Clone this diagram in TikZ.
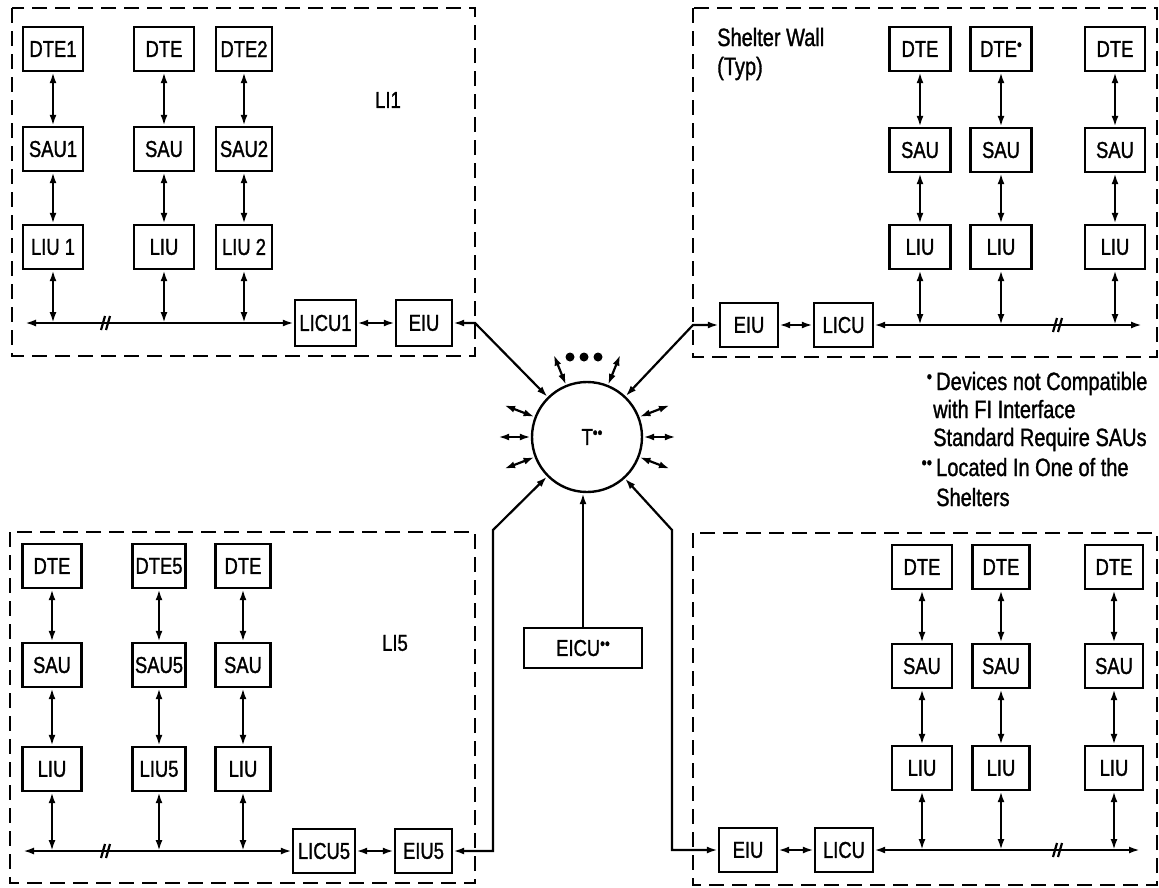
\documentclass[tikz,border=0pt]{standalone}
\usepackage{fontspec}
\setmainfont{Liberation Sans}[FakeStretch=0.8, FakeBold=1.2]
\usetikzlibrary{arrows.meta,calc}
\newcommand{\sdot}{\raisebox{0.28em}{\scalebox{0.75}{\textbullet}}}
\begin{document}
\begin{tikzpicture}[x=1pt,y=-1pt,
  every node/.style={font=\fontsize{23}{27}\selectfont},
  unit/.style={draw, line width=2.4pt, minimum width=60pt, minimum height=44pt, inner sep=0pt},
  wall/.style={line width=2.2pt, dash pattern=on 15pt off 8pt},
  wire/.style={line width=2.2pt},
  link/.style={line width=2.2pt, {Latex[length=11pt,width=7pt]}-{Latex[length=11pt,width=7pt]}},
  tolink/.style={line width=2.2pt, -{Latex[length=11pt,width=7pt]}},
  note/.style={anchor=base west, inner sep=0pt, font=\fontsize{25}{29}\selectfont}]
\useasboundingbox (0,0) rectangle (1159,887);

% ---------- shelter walls ----------
\draw[wall] (12,8) rectangle (475,356);
\draw[wall] (693,8) rectangle (1157,357);
\draw[wall] (10,532) rectangle (475,883);
\draw[wall] (693,533) rectangle (1157,885);

% ---------- top left ----------
\node[unit] (a1d) at (53,49) {DTE1};
\node[unit] (a1s) at (53,149) {SAU1};
\node[unit] (a1l) at (53,247) {LIU 1};
\node[unit] (a2d) at (164,49) {DTE};
\node[unit] (a2s) at (164,149) {SAU};
\node[unit] (a2l) at (164,247) {LIU};
\node[unit,minimum width=56pt] (a3d) at (244,49) {DTE2};
\node[unit,minimum width=56pt] (a3s) at (244,149) {SAU2};
\node[unit,minimum width=56pt] (a3l) at (244,247) {LIU 2};
\node[unit,minimum width=61pt,minimum height=46pt] (alicu) at (325.5,323) {LICU1};
\node[unit,minimum width=56pt,minimum height=46pt] (aeiu) at (424,323) {EIU};
\node (alabel) at (388,100) {LI1};
\coordinate (abus) at (25,323);
\coordinate (aport) at (475,323);

% ---------- top right ----------
\node[unit,minimum width=61pt] (b1d) at (920,49) {DTE};
\node[unit,minimum width=61pt] (b1s) at (920,150) {SAU};
\node[unit,minimum width=61pt] (b1l) at (920,247) {LIU};
\node[unit,minimum width=61pt] (b2d) at (1001,49) {DTE\sdot};
\node[unit,minimum width=61pt] (b2s) at (1001,150) {SAU};
\node[unit,minimum width=61pt] (b2l) at (1001,247) {LIU};
\node[unit] (b3d) at (1115,49) {DTE};
\node[unit] (b3s) at (1115,150) {SAU};
\node[unit] (b3l) at (1115,247) {LIU};
\node[unit,minimum width=58pt] (beiu) at (749,325) {EIU};
\node[unit,minimum width=59pt] (blicu) at (843.5,325) {LICU};
\node[note] (bwall) at (717,46) {Shelter Wall};
\node[note] (btyp) at (717,75) {(Typ)};
\coordinate (bbus) at (1142,325);
\coordinate (bport) at (693,325);

% ---------- bottom left ----------
\node[unit,minimum width=59pt] (c1d) at (52,566) {DTE};
\node[unit,minimum width=59pt] (c1s) at (52,665) {SAU};
\node[unit,minimum width=59pt] (c1l) at (52,769) {LIU};
\node[unit,minimum width=53pt] (c2d) at (159,566) {DTE5};
\node[unit,minimum width=53pt] (c2s) at (159,665) {SAU5};
\node[unit,minimum width=53pt] (c2l) at (159,769) {LIU5};
\node[unit,minimum width=55pt] (c3d) at (243,566) {DTE};
\node[unit,minimum width=55pt] (c3s) at (243,665) {SAU};
\node[unit,minimum width=55pt] (c3l) at (243,769) {LIU};
\node[unit,minimum width=62pt] (clicu) at (324,851) {LICU5};
\node[unit,minimum width=57pt] (ceiu) at (423.5,851) {EIU5};
\node (clabel) at (395,643) {LI5};
\coordinate (cbus) at (23,851);
\coordinate (cbend) at (493,530);

% ---------- bottom right ----------
\node[unit] (d1d) at (922,567) {DTE};
\node[unit] (d1s) at (922,666) {SAU};
\node[unit] (d1l) at (922,768) {LIU};
\node[unit,minimum width=57pt] (d2d) at (1001,567) {DTE};
\node[unit,minimum width=57pt] (d2s) at (1001,666) {SAU};
\node[unit,minimum width=57pt] (d2l) at (1001,768) {LIU};
\node[unit,minimum width=58pt] (d3d) at (1114,567) {DTE};
\node[unit,minimum width=58pt] (d3s) at (1114,666) {SAU};
\node[unit,minimum width=58pt] (d3l) at (1114,768) {LIU};
\node[unit,minimum width=58pt] (deiu) at (748,850) {EIU};
\node[unit,minimum width=58pt] (dlicu) at (844,850) {LICU};
\coordinate (dbus) at (1140,850);
\coordinate (dbend) at (672,530);

% ---------- central node ----------
\node[draw, circle, line width=2.4pt, minimum size=110pt, inner sep=0pt] (T) at (587,437) {\hspace{10pt}T\sdot\sdot};
\node[unit,minimum width=118pt,minimum height=40pt] (eicu) at (583,648) {EICU\sdot\sdot\hspace{24pt}};

% ---------- vertical chains ----------
\foreach \q in {a1,a2,a3,b1,b2,b3,c1,c2,c3,d1,d2,d3} {
  \draw[link] (\q d) -- (\q s);
  \draw[link] (\q s) -- (\q l);
}
\foreach \q in {a1,a2,a3} \draw[link] (\q l) -- (\q l |- abus);
\foreach \q in {b1,b2,b3} \draw[link] (\q l) -- (\q l |- bbus);
\foreach \q in {c1,c2,c3} \draw[link] (\q l) -- (\q l |- cbus);
\foreach \q in {d1,d2,d3} \draw[link] (\q l) -- (\q l |- dbus);

% ---------- buses ----------
\draw[link] (abus) -- (alicu.west);
\draw[link] (alicu) -- (aeiu);
\draw[link] (blicu.east) -- (bbus);
\draw[link] (beiu) -- (blicu);
\draw[link] (cbus) -- (clicu.west);
\draw[link] (clicu) -- (ceiu);
\draw[link] (dlicu.east) -- (dbus);
\draw[link] (deiu) -- (dlicu);

% break marks
\draw[wire] (101,330) -- (105,316) (106,330) -- (110,316);
\draw[wire] (101,858) -- (105,844) (106,858) -- (110,844);
\draw[wire] (1053,332) -- (1057,318) (1058,332) -- (1062,318);
\draw[wire] (1053,857) -- (1057,843) (1058,857) -- (1062,843);

% ---------- links to T ----------
\draw[link] (aeiu.east) -- (aport) -- (T);
\draw[link] (beiu.west) -- (bport) -- (T);
\draw[link] (ceiu.east) -| (cbend) -- (T);
\draw[link] (deiu.west) -| (dbend) -- (T);
\draw[tolink] (eicu.north) -- (eicu.north |- T.south);

% stubs
\foreach \a in {21,0,-21,159,180,201,68,112}
  \draw[link] (T.\a) -- ($(T.center)!1.58!(T.\a)$);
\foreach \x in {570,584,598} \fill (\x,357) circle (4.5pt);

% ---------- notes ----------
\node[note] (n1) at (936,390) {\llap{\sdot\,}Devices not Compatible};
\node[note] (n2) at (933,418) {with FI Interface};
\node[note] (n3) at (933,446) {Standard Require SAUs};
\node[note] (n4) at (936,476) {\llap{\sdot\sdot\,}Located In One of the};
\node[note] (n5) at (936,506) {Shelters};
\end{tikzpicture}
\end{document}
